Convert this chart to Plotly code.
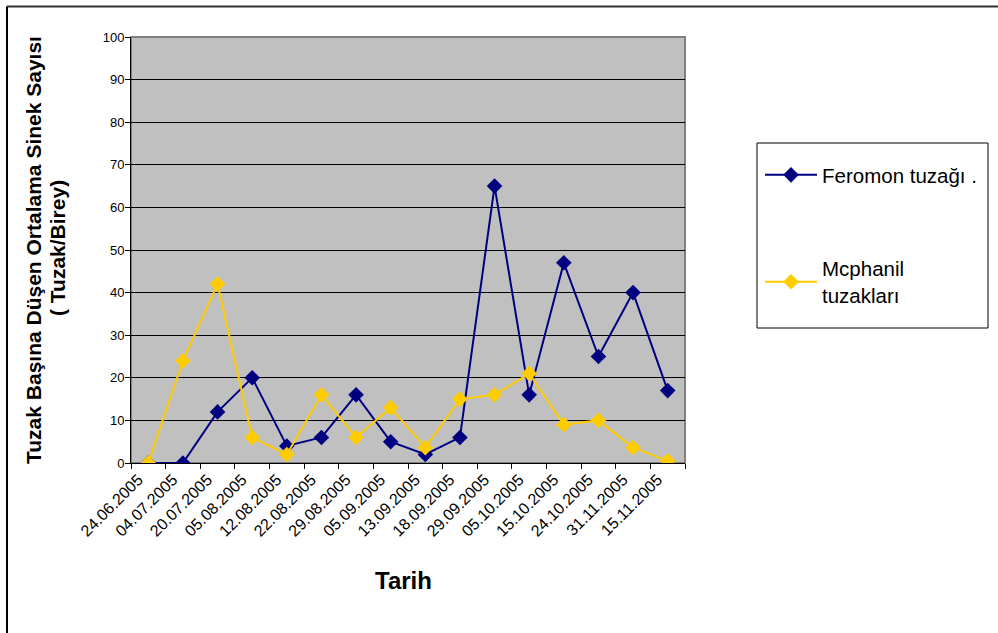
import plotly.graph_objects as go

# Sampling dates (category axis)
dates = ["24.06.2005", "04.07.2005", "20.07.2005", "05.08.2005", "12.08.2005",
         "22.08.2005", "29.08.2005", "05.09.2005", "13.09.2005", "18.09.2005",
         "29.09.2005", "05.10.2005", "15.10.2005", "24.10.2005", "31.11.2005",
         "15.11.2005"]

# Mean catch per trap
feromon = [0, 0, 12, 20, 4, 6, 16, 5, 2, 6, 65, 16, 47, 25, 40, 17]
mcphanil = [0, 24, 42, 6, 2, 16, 6, 13, 3.6, 15, 16, 21, 9, 10, 3.6, 0.5]

y_ticks = list(range(0, 101, 10))

FONT = "Liberation Sans, Arial, sans-serif"
NAVY = "#000080"
GOLD = "#FFCC00"

# Plot area in pixels (998 x 633 canvas)
L, R, T, B = 131, 685, 37, 463
W, H = 998, 633
pw, ph = R - L, B - T


def px(x):
    return (x - L) / pw


def py(y):
    return (B - y) / ph


fig = go.Figure()
fig.add_trace(go.Scatter(
    x=dates, y=feromon, mode="lines+markers", name="Feromon tuzağı .",
    line=dict(color=NAVY, width=2),
    marker=dict(symbol="diamond", size=12, color=NAVY),
    legendgroup="a",
))
fig.add_trace(go.Scatter(
    x=dates, y=mcphanil, mode="lines+markers", name="Mcphanil<br>tuzakları",
    line=dict(color=GOLD, width=2),
    marker=dict(symbol="diamond", size=12, color=GOLD),
    legendgroup="b",
))

fig.update_layout(
    width=W, height=H,
    margin=dict(l=L, r=W - R, t=T, b=H - B, autoexpand=False),
    paper_bgcolor="white",
    plot_bgcolor="#C0C0C0",
    font=dict(family=FONT, color="black", size=13),
    showlegend=True,
    legend=dict(
        x=px(760), y=py(155), xanchor="left", yanchor="top",
        bgcolor="rgba(0,0,0,0)", borderwidth=0,
        font=dict(family=FONT, size=20.5, color="black"),
        tracegroupgap=64, itemwidth=52,
    ),
    xaxis=dict(
        type="category", categoryorder="array", categoryarray=dates,
        range=[-0.5, len(dates) - 0.5],
        tickangle=-45, tickson="boundaries", ticks="outside", ticklen=5,
        tickcolor="black", showline=True, linecolor="black", linewidth=1,
        showgrid=False, zeroline=False,
        tickfont=dict(family=FONT, size=16),
        ticklabelshift=-10,
    ),
    yaxis=dict(
        range=[0, 100], tickvals=y_ticks, ticks="outside", ticklen=5,
        tickcolor="black", showline=True, linecolor="black", linewidth=1,
        showgrid=True, gridcolor="black", gridwidth=1, zeroline=False,
        tickfont=dict(family=FONT, size=13),
        ticklabelstandoff=-2,
    ),
    shapes=[
        # grey frame of the plot area (top and right edges)
        dict(type="rect", xref="paper", yref="paper", x0=0, x1=1, y0=0, y1=1,
             line=dict(color="#808080", width=2), layer="below"),
        # legend box
        dict(type="rect", xref="paper", yref="paper",
             x0=px(757), x1=px(988), y0=py(328), y1=py(143),
             line=dict(color="black", width=1), fillcolor="rgba(0,0,0,0)"),
        # outer chart frame (top and left edges)
        dict(type="line", xref="paper", yref="paper",
             x0=px(7), x1=px(1005), y0=py(6.5), y1=py(6.5),
             line=dict(color="#333333", width=2)),
        dict(type="line", xref="paper", yref="paper",
             x0=px(7), x1=px(7), y0=py(6.5), y1=py(640),
             line=dict(color="black", width=2)),
    ],
    annotations=[
        dict(text="<b>Tarih</b>", xref="paper", yref="paper",
             x=px(403), y=py(580), xanchor="center", yanchor="middle",
             showarrow=False, font=dict(family=FONT, size=24)),
        # two-line y-axis title, each line placed separately
        dict(text="<b>Tuzak Başına Düşen Ortalama Sinek Sayısı</b>",
             xref="paper", yref="paper", x=px(33), y=py(250),
             xanchor="center", yanchor="middle",
             textangle=-90, showarrow=False,
             font=dict(family=FONT, size=21)),
        dict(text="<b>( Tuzak/Birey)</b>",
             xref="paper", yref="paper", x=px(57), y=py(248),
             xanchor="center", yanchor="middle",
             textangle=-90, showarrow=False,
             font=dict(family=FONT, size=21)),
    ],
)

fig.write_html("out.html")
